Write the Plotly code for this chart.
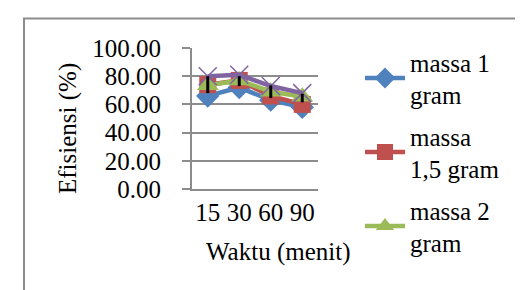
import plotly.graph_objects as go

categories = ["15", "30", "60", "90"]
massa_1 = [66.0, 72.0, 63.0, 58.0]
massa_1_5 = [74.0, 77.0, 66.0, 60.0]
massa_2 = [73.5, 77.0, 69.0, 65.5]
massa_2_5 = [80.0, 81.0, 73.0, 68.0]
err_center = [74.0, 76.5, 69.0, 64.5]
err_half = [6.0, 3.5, 4.5, 3.0]
y_ticks = [0, 20, 40, 60, 80, 100]

FONT = "Liberation Serif"
FS = 25

W, H = 523, 290
L, R, T, B = 184, 310, 40, 181
def px_x(p):
    return (p - L) / (R - L)
def px_y(p):
    return (B - p) / (B - T)

fig = go.Figure()
fig.add_trace(go.Scatter(x=categories, y=massa_1, name="massa 1<br>gram", mode="lines+markers",
                         legendgroup="a",
                         line=dict(color="#4F81BD", width=4.5),
                         marker=dict(symbol="diamond", size=18, color="#4F81BD")))
fig.add_trace(go.Scatter(x=categories, y=massa_1_5, name="massa<br>1,5 gram", mode="lines+markers",
                         legendgroup="b",
                         line=dict(color="#C0504D", width=4.5),
                         marker=dict(symbol="square", size=17, color="#C0504D")))
fig.add_trace(go.Scatter(x=categories, y=massa_2, name="massa 2<br>gram", mode="lines+markers",
                         legendgroup="c",
                         line=dict(color="#9BBB59", width=4.5),
                         marker=dict(symbol="triangle-up", size=19, color="#9BBB59")))
fig.add_trace(go.Scatter(x=categories, y=massa_2_5, name="massa 2,5 gram", mode="lines+markers",
                         showlegend=False, legendgroup="d",
                         line=dict(color="#8064A2", width=4.5),
                         marker=dict(symbol="x-thin", size=18, color="#8064A2",
                                     line=dict(color="#8064A2", width=1.5))))
fig.add_trace(go.Scatter(x=categories, y=err_center, mode="markers", showlegend=False,
                         legendgroup="e",
                         marker=dict(size=1, color="rgba(0,0,0,0)"),
                         error_y=dict(type="data", array=err_half, color="black",
                                      thickness=3, width=0)))

fig.update_layout(
    width=W, height=H,
    margin=dict(l=L, r=W - R, t=T, b=H - B, pad=0, autoexpand=False),
    paper_bgcolor="white", plot_bgcolor="white",
    font=dict(family=FONT, size=FS, color="black"),
    showlegend=True,
    legend=dict(x=px_x(352), y=px_y(31), xanchor="left", yanchor="top",
                font=dict(family=FONT, size=FS), bgcolor="rgba(0,0,0,0)",
                traceorder="grouped", tracegroupgap=6, itemwidth=40, maxheight=260),
    xaxis=dict(type="category", range=[-0.5, 3.5], showgrid=False,
               showline=True, linecolor="#8C8C8C", linewidth=2,
               ticks="", ticklabelstandoff=0, automargin=False,
               tickfont=dict(family=FONT, size=FS)),
    yaxis=dict(range=[0, 100], tickvals=y_ticks, tickformat=".2f",
               showgrid=True, gridcolor="#8C8C8C", gridwidth=1.5,
               showline=True, linecolor="#8C8C8C", linewidth=2,
               ticks="outside", ticklen=8, tickcolor="#8C8C8C", tickwidth=1.5,
               ticklabelstandoff=16, zeroline=False, automargin=False,
               tickfont=dict(family=FONT, size=FS)),
    annotations=[
        dict(text="Efisiensi (%)", x=px_x(60), y=px_y(121), xref="paper", yref="paper",
             showarrow=False, textangle=-90, font=dict(family=FONT, size=FS),
             xanchor="center", yanchor="middle"),
        dict(text="Waktu (menit)", x=px_x(270), y=px_y(244), xref="paper", yref="paper",
             showarrow=False, font=dict(family=FONT, size=FS),
             xanchor="center", yanchor="middle"),
    ],
    shapes=[dict(type="rect", xref="paper", yref="paper",
                 x0=px_x(16), x1=px_x(540), y0=px_y(310), y1=px_y(10.5),
                 line=dict(color="#8C8C8C", width=2), fillcolor="rgba(0,0,0,0)", layer="below")],
)

fig.write_html("out.html")
